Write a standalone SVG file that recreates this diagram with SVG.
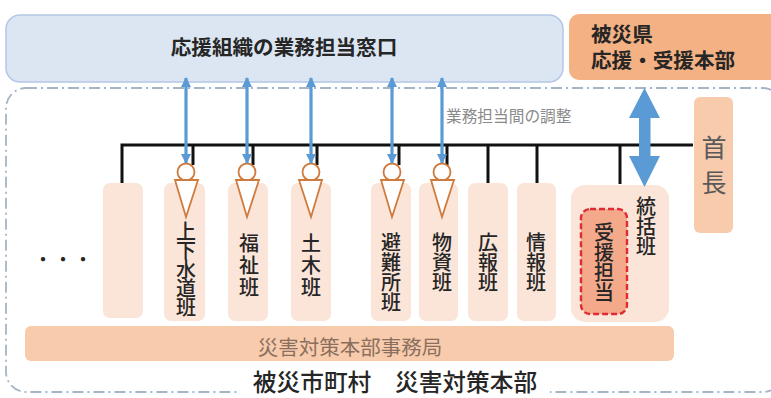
<svg xmlns="http://www.w3.org/2000/svg" width="771" height="398" viewBox="0 0 771 398">
<style>
text{font-family:"Noto Sans CJK JP","Noto Sans",sans-serif;fill:#262626}
.v{writing-mode:vertical-rl;text-anchor:middle;font-size:20px;font-weight:500;letter-spacing:2px}
.t{letter-spacing:-1px}
.col{fill:#fbe5d9}
.bus{fill:none;stroke:#111;stroke-width:3}
.dbl{fill:none;stroke:#5b9bd5;stroke-width:3.2;marker-start:url(#h);marker-end:url(#h)}
.ci{fill:#fff;stroke:#cf7b3e;stroke-width:1.8}
.tri{fill:#fff;stroke:#cf7b3e;stroke-width:1.8}
</style>
<defs>
<marker id="h" viewBox="0 0 10 10" refX="9" refY="5" markerWidth="3.2" markerHeight="3.2" orient="auto-start-reverse"><path d="M0 0L10 5L0 10Z" fill="#5b9bd5"/></marker>
</defs>
<rect width="771" height="398" fill="#fff"/>
<g id="frame"><rect x="6" y="88" width="777" height="304" rx="20" fill="#fff" stroke="#a5b5c5" stroke-width="1.8" stroke-dasharray="11 4 2 4"/>
<rect x="240" y="372" width="310" height="26" fill="#fff"/>
<text x="395" y="391" font-size="23.7" font-weight="500" text-anchor="middle">被災市町村　災害対策本部</text></g>
<g id="window"><rect x="6" y="15" width="557" height="67" rx="14" fill="#dce6f2" stroke="#b4c7e7" stroke-width="1.5"/>
<text x="284" y="55" font-size="20.6" font-weight="700" text-anchor="middle">応援組織の業務担当窓口</text></g>
<g id="prefecture"><rect x="569" y="14" width="215" height="66" rx="10" fill="#f4b183"/>
<text font-size="20.6" font-weight="700"><tspan x="591" y="42">被災県</tspan><tspan x="591" y="68">応援・受援本部</tspan></text></g>
<g id="col0"><rect class="col" x="103" y="183" width="40" height="135" rx="7"/></g>
<g id="col1"><rect class="col" x="164" y="183" width="41" height="138" rx="7"/><text class="v t" x="186" y="269">上下水道班</text></g>
<g id="col2"><rect class="col" x="228" y="183" width="40" height="138" rx="7"/><text class="v" x="249" y="266">福祉班</text></g>
<g id="col3"><rect class="col" x="291" y="183" width="40" height="138" rx="7"/><text class="v" x="311" y="266">土木班</text></g>
<g id="col4"><rect class="col" x="371" y="183" width="40" height="138" rx="7"/><text class="v" x="391" y="272" style="letter-spacing:0">避難所班</text></g>
<g id="col5"><rect class="col" x="419" y="183" width="39" height="138" rx="7"/><text class="v" x="442" y="262" style="letter-spacing:0">物資班</text></g>
<g id="col6"><rect class="col" x="468" y="183" width="40" height="138" rx="7"/><text class="v" x="488" y="262" style="letter-spacing:0">広報班</text></g>
<g id="col7"><rect class="col" x="517" y="183" width="39" height="138" rx="7"/><text class="v" x="536" y="262" style="letter-spacing:0">情報班</text></g>
<g id="col8"><rect class="col" x="571" y="185" width="98" height="137" rx="14"/><text class="v" x="646" y="226" style="letter-spacing:0">統括班</text></g>
<g id="support"><rect x="581" y="209" width="46" height="105" rx="9" fill="#f4a98a" stroke="#e02b35" stroke-width="2.4" stroke-dasharray="6 3"/><text class="v" x="604" y="262" style="letter-spacing:0">受援担当</text></g>
<g id="chief"><rect x="694" y="97" width="39" height="136" rx="6" fill="#f8cbad"/><text font-size="25" text-anchor="middle" style="fill:#595959"><tspan x="714" y="157">首</tspan><tspan x="714" y="192">長</tspan></text></g>
<g id="secretariat"><rect x="25" y="326" width="649" height="35" rx="6" fill="#f8cbad"/><text x="350" y="355" font-size="20.5" text-anchor="middle" style="fill:#8a6f5e">災害対策本部事務局</text></g>
<g id="dots"><text x="63" y="267" font-size="20" text-anchor="middle">・・・</text></g>
<g id="note"><text x="446" y="122" font-size="15.7" style="fill:#8a8a8a">業務担当間の調整</text></g>
<g id="connectors">
<path class="bus" d="M122 183V145H693M193 145V165M253 145V165M317 145V165M399 145V165M447 145V165M488 145V183M537 145V183M620 145V184"/>
<g id="persons">
<circle class="ci" cx="186" cy="172" r="8.5"/><path class="tri" d="M175 180H198L186 217Z"/>
<circle class="ci" cx="247" cy="172" r="8.5"/><path class="tri" d="M236 180H259L247 217Z"/>
<circle class="ci" cx="311" cy="172" r="8.5"/><path class="tri" d="M299 180H322L311 217Z"/>
<circle class="ci" cx="392" cy="172" r="8.5"/><path class="tri" d="M381 180H404L392 217Z"/>
<circle class="ci" cx="442" cy="172" r="8.5"/><path class="tri" d="M431 180H454L442 217Z"/>
</g>
<path class="dbl" d="M186 78V163"/><path class="dbl" d="M247 78V163"/><path class="dbl" d="M311 78V163"/><path class="dbl" d="M392 78V163"/><path class="dbl" d="M442 78V163"/>
<path d="M644.500 88L660 118H650.500V156H660L644.500 187L629 156H639V118H629Z" fill="#5b9bd5"/>
</g>
</svg>
